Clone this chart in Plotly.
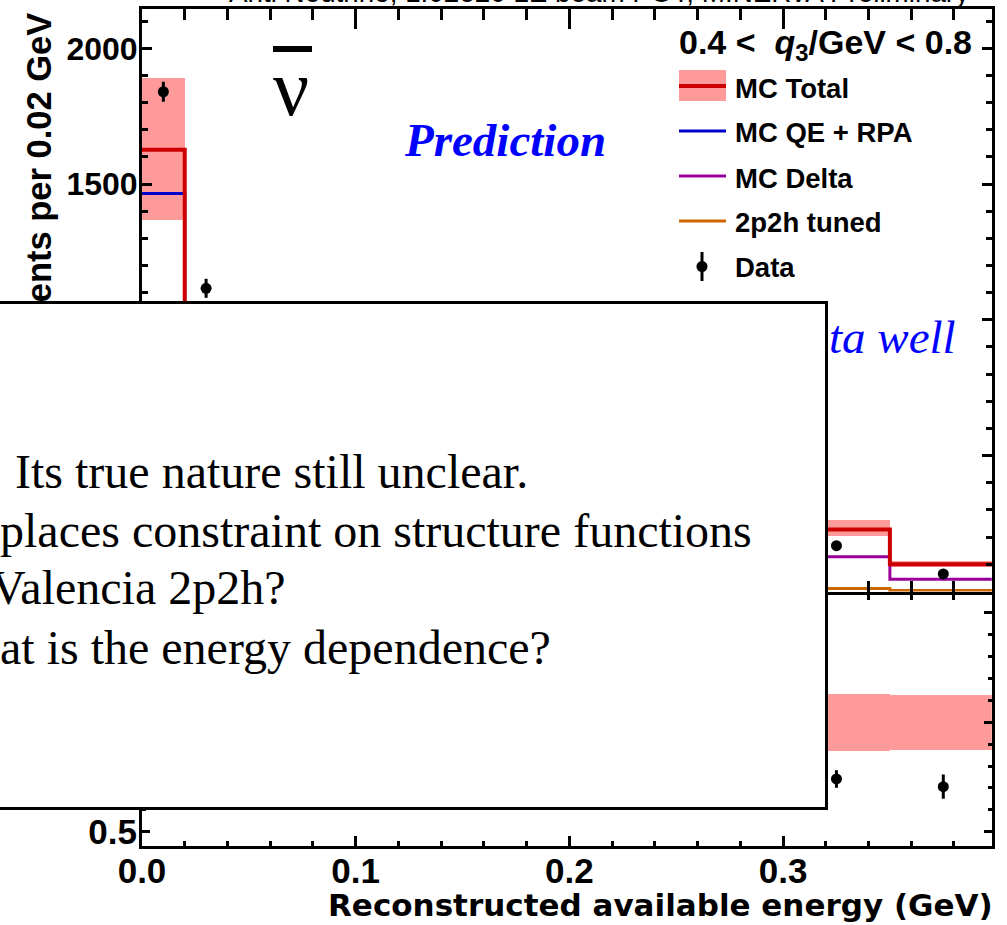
import plotly.graph_objects as go

W, H = 1007, 925


def P(px):
    return px / W


def Q(py):
    return 1 - py / H


# Reconstructed available energy binning (GeV); 0.04-0.30 lies under the note box
bin_edges = [0.00, 0.02, 0.04, 0.30, 0.35, 0.40]

# Events per 0.02 GeV, one value per bin (None = not shown)
mc_total = [1626, 950, None, 228, 100]
mc_total_lo = [1370, None, None, 204, 90]
mc_total_hi = [1892, None, None, 265, 112]
mc_qe_rpa = [1465, 700, None, None, None]
mc_delta = [None, None, None, 127, 44]
mc_2p2h = [None, None, None, 10, 3]

data_x = [0.01, 0.03, 0.325, 0.375]
data_y = [1840, 1116, 168, 64]
data_err = [37, 35, 8, 8]

# Data / MC ratio panel
ratio_x = [0.325, 0.375]
ratio_y = [0.741, 0.706]
ratio_err = [0.04, 0.055]
ratio_band_lo = [None, None, None, 0.869, 0.874]
ratio_band_hi = [None, None, None, 1.133, 1.125]

x_ticks = [0.0, 0.1, 0.2, 0.3]
x_ticklabels = ["0.0", "0.1", "0.2", "0.3"]
top_y_ticks = [500, 1000, 1500, 2000]
ratio_y_ticks = [0.5, 1.0, 1.5]

RED = "#cc0000"
BAND = "#ff9a9a"
BLUE = "#0000cc"
PURPLE = "#990099"
ORANGE = "#cc6600"


def step_xy(values):
    return list(bin_edges), list(values) + [values[-1]]


def band_bars(lo, hi):
    xs, bases, heights, widths = [], [], [], []
    for i, (a, b) in enumerate(zip(lo, hi)):
        if a is None or b is None:
            continue
        xs.append((bin_edges[i] + bin_edges[i + 1]) / 2)
        bases.append(a)
        heights.append(b - a)
        widths.append(bin_edges[i + 1] - bin_edges[i])
    return xs, bases, heights, widths


fig = go.Figure()

# --- top panel ---
bx, bb, bh, bw = band_bars(mc_total_lo, mc_total_hi)
fig.add_trace(go.Bar(x=bx, y=bh, base=bb, width=bw, marker=dict(color=BAND, line_width=0),
                     xaxis="x", yaxis="y"))
for vals, col, lw in [(mc_2p2h, ORANGE, 3), (mc_delta, PURPLE, 3),
                      (mc_qe_rpa, BLUE, 3), (mc_total, RED, 4)]:
    sx, sy = step_xy(vals)
    fig.add_trace(go.Scatter(x=sx, y=sy, mode="lines", line=dict(shape="hv", color=col, width=lw),
                             connectgaps=False, xaxis="x", yaxis="y"))
fig.add_trace(go.Scatter(x=data_x, y=data_y, mode="markers",
                         marker=dict(size=11, color="black"),
                         error_y=dict(type="data", array=data_err, thickness=3, width=0, color="black"),
                         xaxis="x", yaxis="y"))

# --- ratio panel ---
rx, rb, rh, rw = band_bars(ratio_band_lo, ratio_band_hi)
fig.add_trace(go.Bar(x=rx, y=rh, base=rb, width=rw, marker=dict(color=BAND, line_width=0),
                     xaxis="x2", yaxis="y2"))
fig.add_trace(go.Scatter(x=ratio_x, y=ratio_y, mode="markers",
                         marker=dict(size=11, color="black"),
                         error_y=dict(type="data", array=ratio_err, thickness=3, width=0, color="black"),
                         xaxis="x2", yaxis="y2"))

# plot areas (axis lines sit just outside these edges)
x_dom = [P(142), P(991.8)]
top_dom = [Q(591.5), Q(8.5)]
ratio_dom = [Q(845.5), Q(594.5)]

axis_common = dict(showline=True, linecolor="black", linewidth=3, mirror="ticks",
                   ticks="inside", tickcolor="black", tickwidth=2.5,
                   showgrid=False, zeroline=False, automargin=False)
tick_font = dict(family="Liberation Sans", size=35, color="black", weight="bold")

fig.update_layout(
    width=W, height=H,
    margin=dict(l=0, r=0, t=0, b=0, autoexpand=False),
    paper_bgcolor="white", plot_bgcolor="white",
    showlegend=False, barmode="overlay", bargap=0,
    xaxis=dict(domain=x_dom, range=[0, 0.3977], anchor="y", matches="x2",
               showticklabels=False, tickvals=x_ticks, ticklen=20,
               minor=dict(dtick=0.02, ticklen=11, tickwidth=2.5, ticks="inside", tickcolor="black"),
               **axis_common),
    yaxis=dict(domain=top_dom, range=[-0.7, 2146.6], anchor="x",
               tickvals=top_y_ticks, ticklen=10, ticklabelstandoff=-5,
               tickfont=dict(family="Liberation Sans", size=32, color="black", weight="bold"),
               minor=dict(dtick=100, ticklen=6, tickwidth=2.5, ticks="inside", tickcolor="black"),
               **axis_common),
    xaxis2=dict(domain=x_dom, range=[0, 0.3977], anchor="y2",
                tickvals=x_ticks, ticktext=x_ticklabels, ticklen=10, tickfont=tick_font,
                ticklabelstandoff=-8,
                minor=dict(dtick=0.02, ticklen=5, tickwidth=2.5, ticks="inside", tickcolor="black"),
                **axis_common),
    yaxis2=dict(domain=ratio_dom, range=[0.437, 1.584], anchor="x2",
                tickvals=ratio_y_ticks, ticktext=["0.5", "1.0", "1.5"], ticklen=8, tickfont=tick_font,
                ticklabelstandoff=-5,
                minor=dict(dtick=0.1, ticklen=4, tickwidth=2.5, ticks="inside", tickcolor="black"),
                **axis_common),
)

ann = []
shapes = []


def text(x, y, s, size, family="Liberation Sans", color="black", weight="bold", style="normal",
         xanchor="left", yanchor="middle", angle=0):
    ann.append(dict(xref="paper", yref="paper", x=P(x), y=Q(y), text=s, showarrow=False,
                    xanchor=xanchor, yanchor=yanchor, textangle=angle, borderpad=0,
                    font=dict(family=family, size=size, color=color, weight=weight, style=style)))


# header line along the top edge
text(228, 8.9, "Anti Neutrino, 1.02e20 LE beam POT, MINERvA Preliminary", 27.8,
     weight="normal", yanchor="bottom")

# q3 slice label
text(677.5, 22, "0.4 <&nbsp; <i>q</i><sub>3</sub>/GeV < 0.8", 34, yanchor="top")

# legend
leg_x0, leg_x1 = 679, 726
shapes.append(dict(type="rect", xref="paper", yref="paper", x0=P(leg_x0), x1=P(leg_x1),
                   y0=Q(101), y1=Q(70), fillcolor=BAND, line_width=0))
for yy, col, lw in [(86, RED, 4), (131, BLUE, 3), (176, PURPLE, 3), (221, ORANGE, 3)]:
    shapes.append(dict(type="line", xref="paper", yref="paper", x0=P(leg_x0), x1=P(leg_x1),
                       y0=Q(yy), y1=Q(yy), line=dict(color=col, width=lw)))
shapes.append(dict(type="line", xref="paper", yref="paper", x0=P(702), x1=P(702),
                   y0=Q(252), y1=Q(281), line=dict(color="black", width=3)))
shapes.append(dict(type="circle", xref="paper", yref="paper", x0=P(696.5), x1=P(707.5),
                   y0=Q(272), y1=Q(261), fillcolor="black", line_width=0))
for yy, label in [(88, "MC Total"), (133, "MC QE + RPA"), (178, "MC Delta"),
                  (223, "2p2h tuned"), (268, "Data")]:
    text(734, yy, label, 27.5)

# anti-neutrino symbol
text(272, 88, "ν", 80, family="Liberation Serif", weight="normal")
shapes.append(dict(type="line", xref="paper", yref="paper", x0=P(273), x1=P(312),
                   y0=Q(49), y1=Q(49), line=dict(color="black", width=6)))

text(403, 140, "Prediction", 47, family="Liberation Serif", color="#0000ff", style="italic")
text(828, 337, "ta well", 47, family="Liberation Serif", color="#0000ff", weight="normal",
     style="italic")

# axis titles
text(38, 178.5, "Events per 0.02 GeV", 34.5, xanchor="center", angle=-90)
text(994, 905, "Reconstructed available energy (GeV)", 31, family="DejaVu Sans",
     xanchor="right")

# note box
box_l, box_r, box_t, box_b = -20, 827.8, 301.2, 810.5
ann.append(dict(xref="paper", yref="paper", x=P(box_l), y=Q(box_t), xanchor="left", yanchor="top",
                text="\u00a0", showarrow=False, width=box_r - box_l - 6, height=box_b - box_t - 6,
                bgcolor="white", bordercolor="black", borderwidth=3, borderpad=0))
for x0, yc, line in [(14, 471.8, "Its true nature still unclear."),
                     (-1, 530.5, "places constraint on structure functions"),
                     (-10, 587, "Valencia 2p2h?"),
                     (-1, 647, "at is the energy dependence?")]:
    text(x0, yc, line, 48, family="Liberation Serif", weight="normal")

fig.update_layout(annotations=ann, shapes=shapes)
fig.write_html("out.html")
